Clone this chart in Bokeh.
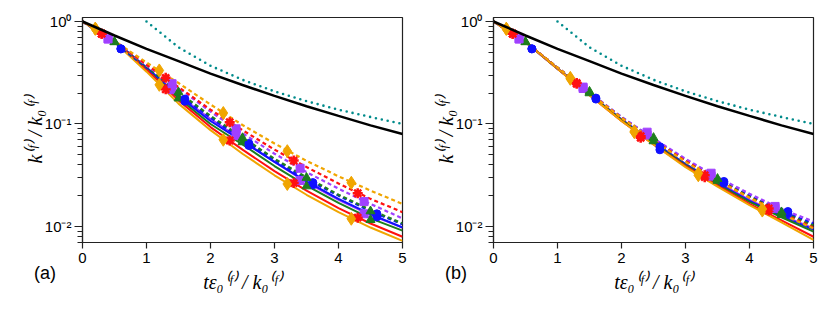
from bokeh.plotting import figure
from bokeh.layouts import row
from bokeh.models import Range1d, FixedTicker, CustomJSTickFormatter, Div
from bokeh.embed import file_html
from bokeh.resources import INLINE

# ---------------- data ----------------
t_grid = [0, 0.5, 1.0, 1.5, 2.0, 2.5, 3.0, 3.5, 4.0, 4.5, 5.0]

black_k = [1.0, 0.73, 0.54, 0.41, 0.31, 0.24, 0.188, 0.149, 0.12, 0.097, 0.080]
t_teal = [1.0, 1.5, 2.0, 2.5, 3.0, 3.5, 4.0, 4.5, 5.0]
teal_k = [1.0, 0.56, 0.37, 0.27, 0.208, 0.167, 0.138, 0.117, 0.100]

# marker times
t_m_orange = [0.2, 1.2, 2.2, 3.2, 4.2]
t_m_red = [0.3, 1.3, 2.3, 3.3, 4.3]
t_m_purple = [0.4, 1.4, 2.4, 3.4, 4.4]
t_m_green = [0.5, 1.5, 2.5, 3.5, 4.5]
t_m_blue = [0.6, 1.6, 2.6, 3.6, 4.6]

# panel (a) solid curves
a_orange_solid = [1.0, 0.631, 0.324, 0.158, 0.0871, 0.0513, 0.0316, 0.0204, 0.0138, 0.00977, 0.00724]
a_red_solid = [1.0, 0.646, 0.339, 0.170, 0.0933, 0.0562, 0.0347, 0.0224, 0.0151, 0.0107, 0.00794]
a_green_solid = [1.0, 0.646, 0.347, 0.178, 0.100, 0.0631, 0.0389, 0.0251, 0.0170, 0.0120, 0.00912]
a_blue_solid = [1.0, 0.646, 0.355, 0.186, 0.107, 0.0676, 0.0427, 0.0275, 0.0186, 0.0132, 0.00977]
a_purple_solid = [1.0, 0.646, 0.355, 0.191, 0.112, 0.0692, 0.0427, 0.0269, 0.0182, 0.0129, 0.00977]
# panel (a) dashed curves
a_orange_dash = [1.0, 0.646, 0.398, 0.251, 0.155, 0.0977, 0.0646, 0.0437, 0.0309, 0.0224, 0.0166]
a_red_dash = [1.0, 0.646, 0.380, 0.229, 0.138, 0.0871, 0.0562, 0.0380, 0.0263, 0.0186, 0.0138]
a_purple_dash = [1.0, 0.646, 0.372, 0.224, 0.132, 0.0813, 0.0513, 0.0339, 0.0234, 0.0166, 0.0120]
a_green_dash = [1.0, 0.631, 0.363, 0.204, 0.120, 0.0741, 0.0457, 0.0302, 0.0204, 0.0145, 0.0107]
a_blue_dash = [1.0, 0.617, 0.355, 0.195, 0.115, 0.0708, 0.0447, 0.0288, 0.0200, 0.0141, 0.0105]
# panel (a) markers
a_orange_solid_m = [0.851, 0.241, 0.0702, 0.0260, 0.0119]
a_orange_dash_m = [0.851, 0.333, 0.128, 0.0543, 0.0267]
a_red_solid_m = [0.759, 0.218, 0.069, 0.0265, 0.0122]
a_red_dash_m = [0.759, 0.282, 0.104, 0.044, 0.0211]
a_purple_solid_m = [0.676, 0.216, 0.077, 0.0281, 0.0133]
a_purple_dash_m = [0.676, 0.247, 0.0897, 0.037, 0.0175]
a_green_solid_m = [0.631, 0.178, 0.0665, 0.0247, 0.0116]
a_green_dash_m = [0.631, 0.204, 0.073, 0.0299, 0.0141]
a_blue_solid_m = [0.541, 0.167, 0.0617, 0.0255, 0.0124]
a_blue_dash_m = [0.541, 0.175, 0.0646, 0.0268, 0.0133]

# panel (b) solid curves
b_orange_solid = [1.0, 0.631, 0.347, 0.191, 0.107, 0.0631, 0.0380, 0.0245, 0.0162, 0.0110, 0.00741]
b_red_solid = [1.0, 0.631, 0.347, 0.191, 0.107, 0.0631, 0.0389, 0.0251, 0.0166, 0.0115, 0.00794]
b_green_solid = [1.0, 0.631, 0.347, 0.195, 0.110, 0.0646, 0.0398, 0.0257, 0.0174, 0.0123, 0.00891]
b_blue_solid = [1.0, 0.631, 0.347, 0.195, 0.110, 0.0661, 0.0407, 0.0263, 0.0178, 0.0126, 0.00933]
b_purple_solid = [1.0, 0.631, 0.347, 0.195, 0.112, 0.0661, 0.0407, 0.0269, 0.0182, 0.0129, 0.00955]
# panel (b) dashed curves
b_orange_dash = [1.0, 0.631, 0.355, 0.200, 0.115, 0.0692, 0.0427, 0.0282, 0.0191, 0.0132, 0.00955]
b_red_dash = [1.0, 0.631, 0.355, 0.200, 0.115, 0.0692, 0.0437, 0.0282, 0.0191, 0.0135, 0.00977]
b_green_dash = [1.0, 0.631, 0.355, 0.200, 0.115, 0.0708, 0.0437, 0.0288, 0.0195, 0.0138, 0.0102]
b_blue_dash = [1.0, 0.631, 0.355, 0.200, 0.117, 0.0708, 0.0447, 0.0295, 0.0200, 0.0141, 0.0107]
b_purple_dash = [1.0, 0.631, 0.355, 0.204, 0.117, 0.0724, 0.0457, 0.0302, 0.0209, 0.0148, 0.0112]
# panel (b) markers
b_orange_solid_m = [0.849, 0.276, 0.0832, 0.0316, 0.0143]
b_orange_dash_m = [0.849, 0.282, 0.0851, 0.0330, 0.0148]
b_red_solid_m = [0.759, 0.247, 0.0733, 0.0303, 0.0143]
b_red_dash_m = [0.759, 0.251, 0.0760, 0.0316, 0.0150]
b_purple_solid_m = [0.676, 0.222, 0.0780, 0.0310, 0.0150]
b_purple_dash_m = [0.676, 0.229, 0.0832, 0.0331, 0.0157]
b_green_solid_m = [0.631, 0.200, 0.0680, 0.0280, 0.0130]
b_green_dash_m = [0.631, 0.207, 0.0733, 0.0292, 0.0138]
b_blue_solid_m = [0.541, 0.175, 0.0560, 0.0265, 0.0133]
b_blue_dash_m = [0.541, 0.179, 0.0600, 0.0275, 0.0140]

y_ticks = [0.01, 0.1, 1.0]
y_minor = [0.007, 0.008, 0.009, 0.02, 0.03, 0.04, 0.05, 0.06, 0.07, 0.08, 0.09,
           0.2, 0.3, 0.4, 0.5, 0.6, 0.7, 0.8, 0.9]
x_ticks = [0, 1, 2, 3, 4, 5]

# ---------------- styles ----------------
COL = {"blue": "#1010ff", "green": "#1e7d1e", "purple": "#a040ff",
       "red": "#ff1010", "orange": "#f0a500"}
TEAL = "#008b8b"
SANS = "Liberation Sans"
SERIF = "Liberation Serif"
H = 308


def make_panel(data, width, left_border, right_border):
    p = figure(width=width, height=H, y_axis_type="log",
               x_range=Range1d(0, 5), y_range=Range1d(0.00698, 1.094),
               output_backend="svg", toolbar_location=None,
               min_border_left=left_border, min_border_right=right_border,
               min_border_top=17, min_border_bottom=66)
    p.grid.visible = False
    p.outline_line_color = "#222222"
    p.outline_line_width = 1.2
    p.background_fill_color = "white"
    p.border_fill_color = "white"

    tmark = {"orange": t_m_orange, "red": t_m_red, "purple": t_m_purple,
             "green": t_m_green, "blue": t_m_blue}

    for name in ["purple", "blue", "green", "red", "orange"]:
        p.line(t_grid, data[name + "_solid"], line_color=COL[name], line_width=2)
    for name in ["blue", "green", "purple", "red", "orange"]:
        p.line(t_grid, data[name + "_dash"], line_color=COL[name], line_width=2.2,
               line_dash="4 3")
    for kind in ["_solid_m", "_dash_m"]:
        p.scatter(tmark["blue"], data["blue" + kind], marker="circle", size=8,
                  fill_color=COL["blue"], line_color=COL["blue"])
        p.scatter(tmark["green"], data["green" + kind], marker="triangle", size=9,
                  fill_color=COL["green"], line_color=COL["green"])
        p.scatter(tmark["purple"], data["purple" + kind], marker="square", size=8,
                  fill_color=COL["purple"], line_color=COL["purple"])
        p.scatter(tmark["red"], data["red" + kind], marker="asterisk", size=10,
                  line_color=COL["red"], line_width=2.5)
        p.scatter(tmark["orange"], data["orange" + kind], marker="diamond", size=13,
                  fill_color=COL["orange"], line_color=COL["orange"])

    p.line(t_grid, black_k, line_color="black", line_width=2.5)
    p.line(t_teal, teal_k, line_color=TEAL, line_width=2.6, line_dash="0 6",
           line_cap="round")

    p.xaxis.ticker = FixedTicker(ticks=x_ticks)
    p.yaxis.ticker = FixedTicker(ticks=y_ticks, minor_ticks=y_minor)
    p.yaxis.formatter = CustomJSTickFormatter(code="""
        if (Math.abs(tick - 1) < 1e-9) return "10\u2070";
        if (Math.abs(tick - 0.1) < 1e-9) return "10\u207b\u00b9";
        if (Math.abs(tick - 0.01) < 1e-9) return "10\u207b\u00b2";
        return "";
    """)
    for ax in (p.xaxis[0], p.yaxis[0]):
        ax.axis_line_color = "#222222"
        ax.axis_line_width = 1.2
        ax.major_tick_line_color = "#222222"
        ax.minor_tick_line_color = "#222222"
        ax.major_tick_line_width = 1.2
        ax.minor_tick_line_width = 1.2
        ax.major_tick_in = 0
        ax.minor_tick_in = 0
        ax.major_label_text_font = SANS
        ax.major_label_text_font_size = "15px"
        ax.major_label_text_color = "black"
        ax.axis_label_text_font = SERIF
        ax.axis_label_text_font_style = "italic"
        ax.axis_label_text_font_size = "20px"
        ax.axis_label_text_color = "black"
    p.xaxis.major_tick_out = 6
    p.yaxis.major_tick_out = 8
    p.yaxis.minor_tick_out = 5
    p.xaxis.major_label_standoff = 4
    p.yaxis.major_label_standoff = 3
    p.xaxis.axis_label = "t\u03b5\u2080\u207d\u1da0\u207e / k\u2080\u207d\u1da0\u207e"
    p.yaxis.axis_label = "k\u207d\u1da0\u207e / k\u2080\u207d\u1da0\u207e"
    p.xaxis.axis_label_standoff = 5
    p.yaxis.axis_label_standoff = -4
    return p


data_a = {"orange_solid": a_orange_solid, "red_solid": a_red_solid,
          "green_solid": a_green_solid, "blue_solid": a_blue_solid,
          "purple_solid": a_purple_solid,
          "orange_dash": a_orange_dash, "red_dash": a_red_dash,
          "purple_dash": a_purple_dash, "green_dash": a_green_dash,
          "blue_dash": a_blue_dash,
          "orange_solid_m": a_orange_solid_m, "orange_dash_m": a_orange_dash_m,
          "red_solid_m": a_red_solid_m, "red_dash_m": a_red_dash_m,
          "purple_solid_m": a_purple_solid_m, "purple_dash_m": a_purple_dash_m,
          "green_solid_m": a_green_solid_m, "green_dash_m": a_green_dash_m,
          "blue_solid_m": a_blue_solid_m, "blue_dash_m": a_blue_dash_m}
data_b = {"orange_solid": b_orange_solid, "red_solid": b_red_solid,
          "green_solid": b_green_solid, "blue_solid": b_blue_solid,
          "purple_solid": b_purple_solid,
          "orange_dash": b_orange_dash, "red_dash": b_red_dash,
          "purple_dash": b_purple_dash, "green_dash": b_green_dash,
          "blue_dash": b_blue_dash,
          "orange_solid_m": b_orange_solid_m, "orange_dash_m": b_orange_dash_m,
          "red_solid_m": b_red_solid_m, "red_dash_m": b_red_dash_m,
          "purple_solid_m": b_purple_solid_m, "purple_dash_m": b_purple_dash_m,
          "green_solid_m": b_green_solid_m, "green_dash_m": b_green_dash_m,
          "blue_solid_m": b_blue_solid_m, "blue_dash_m": b_blue_dash_m}

pa = make_panel(data_a, 410, 82, 8)
pb = make_panel(data_b, 412, 83, 9)


def tag_div(text, left):
    return Div(text=text, width=30, height=22,
               styles={"position": "absolute", "left": f"{left}px", "top": "256px",
                       "font-size": "18px", "font-family": "Liberation Sans",
                       "color": "black"})


layout = row(pa, pb, tag_div("(a)", 29), tag_div("(b)", 440))
open("out.html", "w").write(file_html(layout, INLINE))
